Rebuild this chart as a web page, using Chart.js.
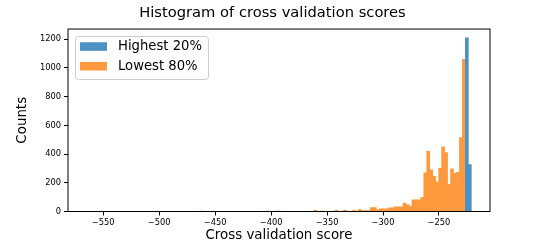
<!DOCTYPE html>
<html>
<head>
<meta charset="utf-8">
<script src="https://cdn.jsdelivr.net/npm/chart.js@4"></script>
<style>
  body { margin: 0; background: #fff; }
</style>
</head>
<body>
<canvas id="histo" width="545" height="242"></canvas>
<script>
// bin centres (score) and counts
const highCenters = [-222.43, -225.08];
const highCounts = [327, 1210];

const lowCenters = [-227.74, -230.39, -233.05, -235.70, -238.35, -241.01, -243.66, -246.32,
  -248.97, -251.62, -254.28, -256.93, -259.59, -262.24, -264.89, -267.55, -270.20, -272.86,
  -275.51, -278.16, -280.82, -283.47, -286.13, -288.78, -291.43, -294.09, -296.74, -299.40,
  -302.05, -304.70, -307.36, -310.01, -312.67, -315.32, -317.97, -320.63, -323.28, -325.94,
  -333.90, -341.86, -355.13, -360.44, -392.29, -394.94, -402.90, -461.29];
const lowCounts = [1060, 515, 273, 266, 298, 190, 410, 450,
  300, 207, 245, 290, 420, 270, 98, 82, 82, 82,
  37, 49, 58, 33, 33, 33, 26, 26, 19, 19,
  19, 14, 28, 28, 7, 7, 7, 14, 2, 8,
  10, 8, 3, 8, 3, 3, 2, 2];

const xTicks = [-550, -500, -450, -400, -350, -300, -250];
const yTicks = [0, 200, 400, 600, 800, 1000, 1200];

const FONT = 'DejaVu Sans';
const blue = 'rgb(75, 146, 195)';
const orange = 'rgb(255, 153, 62)';

const toPoints = (xs, ys) => xs.map((x, i) => ({x: x, y: ys[i]}));
const minus = v => String(v).replace('-', '\u2212');

// matplotlib style frame round the axes
const frame = {
  id: 'frame',
  afterDraw(chart) {
    const {ctx, chartArea: a} = chart;
    ctx.save();
    ctx.strokeStyle = '#000';
    ctx.lineWidth = 1;
    ctx.strokeRect(a.left, a.top, a.right - a.left, a.bottom - a.top);
    ctx.restore();
  }
};

// legend in the upper left corner of the axes
const legendBox = {
  id: 'legendBox',
  afterDatasetsDraw(chart) {
    const {ctx, chartArea} = chart;
    const x = chartArea.left + 7, y = chartArea.top + 7;
    ctx.save();
    ctx.fillStyle = 'rgba(255,255,255,0.8)';
    ctx.strokeStyle = '#ccc';
    ctx.lineWidth = 1;
    ctx.beginPath();
    ctx.roundRect(x + 0.5, y + 0.5, 133, 43, 3);
    ctx.fill();
    ctx.stroke();
    ctx.font = '13.2px "' + FONT + '"';
    ctx.textBaseline = 'middle';
    chart.data.datasets.forEach((ds, i) => {
      const ry = y + 10.5 + i * 19.7;
      ctx.fillStyle = ds.backgroundColor;
      ctx.fillRect(x + 5, ry - 4.3, 27, 8.6);
      ctx.fillStyle = '#000';
      ctx.fillText(ds.label, x + 43, ry + 0.5);
    });
    ctx.restore();
  }
};

const ctx = document.getElementById('histo').getContext('2d');
const chart = new Chart(ctx, {
  type: 'bar',
  data: {
    datasets: [{
      label: 'Highest 20%',
      data: toPoints(highCenters, highCounts),
      backgroundColor: blue,
      yAxisID: 'y'
    }, {
      label: 'Lowest 80%',
      data: toPoints(lowCenters, lowCounts),
      backgroundColor: orange,
      yAxisID: 'y'
    }]
  },
  options: {
    responsive: false,
    animation: false,
    grouped: false,
    barPercentage: 1,
    categoryPercentage: 1,
    layout: { padding: 0 },
    plugins: {
      legend: { display: false },
      tooltip: { enabled: false },
      title: {
        display: true,
        text: 'Histogram of cross validation scores',
        color: '#000',
        font: { family: FONT, size: 14.7, weight: 'normal' },
        padding: { top: 4, bottom: 7.4 }
      }
    },
    scales: {
      x: {
        type: 'linear',
        min: -581.5,
        max: -204.4,
        offset: false,
        afterBuildTicks: s => { s.ticks = xTicks.map(v => ({value: v})); },
        afterFit: s => { s.height = 30.5; },
        grid: { offset: false, drawOnChartArea: false, drawTicks: true, tickLength: 4, color: '#000' },
        border: { display: false },
        ticks: {
          color: '#000',
          padding: 2,
          maxRotation: 0,
          font: { family: FONT, size: 8.3 },
          callback: v => minus(v)
        },
        title: {
          display: true,
          text: 'Cross validation score',
          color: '#000',
          font: { family: FONT, size: 13.4 },
          padding: { top: 0, bottom: -2 }
        }
      },
      y: {
        min: 0,
        max: 1271,
        afterBuildTicks: s => { s.ticks = yTicks.map(v => ({value: v})); },
        afterFit: s => { s.width = 68; },
        grid: { drawOnChartArea: false, drawTicks: true, tickLength: 4, color: '#000' },
        border: { display: false },
        ticks: {
          color: '#000',
          padding: 3,
          font: { family: FONT, size: 8.3 },
          callback: v => minus(v)
        },
        title: {
          display: true,
          text: 'Counts',
          color: '#000',
          font: { family: FONT, size: 13.4 },
          padding: { top: 14.5, bottom: 0 }
        }
      },
      // empty axis on the right, only keeps the figure margin
      yRight: {
        position: 'right',
        afterFit: s => { s.width = 55; },
        grid: { display: false },
        border: { display: false },
        ticks: { display: false }
      }
    }
  },
  plugins: [frame, legendBox]
});
</script>
</body>
</html>
